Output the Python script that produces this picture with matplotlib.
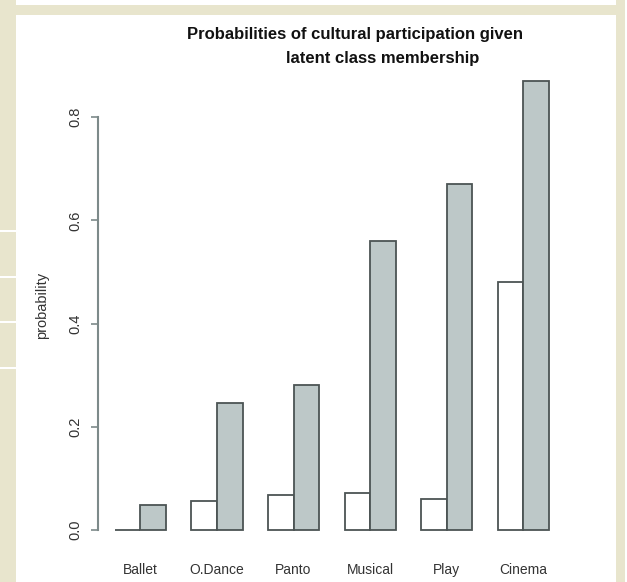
import matplotlib
matplotlib.use("Agg")
import matplotlib.pyplot as plt
from matplotlib.patches import Rectangle
import numpy as np

categories = ["Ballet", "O.Dance", "Panto", "Musical", "Play", "Cinema"]
class1 = [0.0, 0.056, 0.067, 0.071, 0.060, 0.480]
class2 = [0.048, 0.246, 0.281, 0.560, 0.671, 0.870]
yticks = [0.0, 0.2, 0.4, 0.6, 0.8]
ytick_labels = ["0.0", "0.2", "0.4", "0.6", "0.8"]

W, H = 627, 582
plt.rcParams['font.family'] = ['Liberation Sans', 'DejaVu Sans']
fig = plt.figure(figsize=(W / 100, H / 100), dpi=100)
fig.patch.set_facecolor("white")

beige = "#e8e5cd"
def fx(x): return x / W
def fy(y): return 1 - y / H
def rect(x0, y0, x1, y1, color):
    fig.add_artist(Rectangle((fx(x0), fy(y1)), fx(x1) - fx(x0), fy(y0) - fy(y1),
                             transform=fig.transFigure, facecolor=color,
                             edgecolor="none", zorder=0))

# page decoration
rect(0, 5, 616, 15, beige)
rect(0, 0, 16, H, beige)
rect(616, 0, 625, H, beige)
for yy in [231, 277, 322, 368]:
    rect(0, yy - 1, 16, yy + 1, "white")

ax = fig.add_axes([97.6 / W, 1 - 548 / H, (566 - 97.6) / W, (548 - 63) / H])
ax.set_facecolor("none")

n = len(categories)
left1 = np.arange(n) * 3 + 1
edge = "#4c5454"
ax.bar(left1, class1, width=1, align="edge", color="white", edgecolor=edge, linewidth=1.3)
ax.bar(left1 + 1, class2, width=1, align="edge", color="#bdc8c8", edgecolor=edge, linewidth=1.3)

ax.set_xlim(0.32, 18.68)
ax.set_ylim(-0.0348, 0.9048)

for s in ["top", "right", "bottom"]:
    ax.spines[s].set_visible(False)
axc = "#7d8a8a"
ax.spines["left"].set_bounds(0, 0.8)
ax.spines["left"].set_color(axc)
ax.spines["left"].set_linewidth(1.5)

ax.set_yticks(yticks)
ax.set_yticklabels(ytick_labels, rotation=90, va="center", fontsize=10.5, color="#333333")
ax.tick_params(axis="y", length=5, width=1.2, color=axc, pad=6)

ax.set_xticks(left1 + 1)
ax.set_xticklabels(categories, fontsize=10, color="#333333")
ax.tick_params(axis="x", length=0, pad=11)

ax.set_ylabel("probability", fontsize=10.5, color="#333333", labelpad=14)

fig.text(fx(355), fy(35), "Probabilities of cultural participation given",
         ha="center", va="center", fontsize=12, fontweight="bold", color="#111111")
fig.text(fx(383), fy(59), "latent class membership",
         ha="center", va="center", fontsize=12, fontweight="bold", color="#111111")

fig.savefig("out.png", dpi=100)
